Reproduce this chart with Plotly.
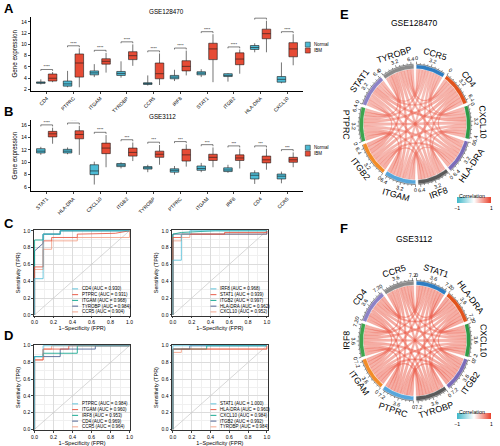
import numpy as np
import plotly.graph_objects as go

W, H = 500, 446
FONT = "Liberation Sans, Arial, Helvetica, sans-serif"

# ---------------- Panel A : GSE128470 box plots ----------------
genes_A = ["CD4", "PTPRC", "ITGAM", "TYROBP", "CCR5", "IRF8", "STAT1", "ITGB2", "HLA-DRA", "CXCL10"]
A_norm_lf = [2.9, 2.4, 4.2, 4.1, 2.7, 3.5, 4.2, 3.4, 8.6, 3.1]
A_norm_q1 = [3.1, 2.6, 4.6, 4.5, 2.9, 3.9, 4.6, 4.3, 9.1, 3.3]
A_norm_med = [3.2, 3.0, 4.95, 4.85, 3.05, 4.2, 4.9, 4.5, 9.45, 3.8]
A_norm_q3 = [3.35, 3.5, 5.3, 5.2, 3.2, 4.5, 5.15, 4.8, 9.8, 4.3]
A_norm_uf = [3.8, 5.3, 6.5, 7.0, 4.5, 5.5, 5.6, 4.9, 10.2, 6.8]
A_ibm_lf = [3.3, 2.4, 5.0, 6.2, 2.8, 4.5, 3.3, 4.8, 8.6, 6.3]
A_ibm_q1 = [3.5, 4.2, 6.5, 7.3, 3.9, 5.3, 7.3, 6.4, 11.0, 7.8]
A_ibm_med = [4.0, 6.7, 7.0, 8.0, 4.8, 6.1, 9.2, 7.4, 11.9, 9.2]
A_ibm_q3 = [4.75, 8.3, 7.45, 8.7, 6.7, 7.1, 10.2, 8.5, 12.7, 10.3]
A_ibm_uf = [5.1, 9.3, 8.5, 10.0, 8.4, 8.9, 11.8, 9.1, 14.2, 11.8]
A_sig = ["****"] * 10

# ---------------- Panel B : GSE3112 box plots ----------------
genes_B = ["STAT1", "HLA-DRA", "CXCL10", "ITGB2", "TYROBP", "PTPRC", "ITGAM", "IRF8", "CD4", "CCR5"]
B_norm_lf = [11.2, 11.3, 6.4, 9.0, 8.4, 8.0, 8.4, 8.3, 6.5, 6.6]
B_norm_q1 = [11.5, 11.5, 8.0, 9.3, 8.9, 8.4, 8.7, 8.5, 7.3, 7.3]
B_norm_med = [11.8, 11.8, 8.6, 9.55, 9.1, 8.7, 9.0, 8.75, 7.9, 7.75]
B_norm_q3 = [12.2, 12.1, 9.6, 9.8, 9.3, 8.95, 9.4, 9.1, 8.3, 8.1]
B_norm_uf = [12.5, 12.4, 10.1, 10.0, 9.6, 9.4, 9.9, 9.6, 8.7, 8.5]
B_ibm_lf = [13.0, 11.2, 9.2, 10.2, 9.6, 9.3, 9.2, 9.0, 8.8, 9.2]
B_ibm_q1 = [14.1, 13.8, 11.4, 11.0, 10.8, 10.2, 10.3, 10.3, 9.9, 10.0]
B_ibm_med = [14.6, 14.5, 12.3, 11.6, 11.3, 11.2, 10.8, 10.7, 10.4, 10.4]
B_ibm_q3 = [15.0, 15.1, 13.1, 12.3, 11.8, 12.1, 11.3, 11.2, 11.0, 10.8]
B_ibm_uf = [15.6, 15.9, 14.4, 13.2, 12.8, 12.9, 12.4, 12.2, 12.2, 11.6]
B_sig = ["****", "****", "****", "***", "***", "***", "***", "***", "***", "***"]

group_names = ["Normal", "IBM"]

# ---------------- Panels C / D : ROC curves ----------------
rocC1_names = ["CD4", "PTPRC", "ITGAM", "TYROBP", "CCR5"]
rocC1_auc = [0.930, 0.931, 0.968, 0.984, 0.904]
rocC1_fpr = [[0, 0, 0.09, 0.09, 0.27, 0.27, 1],
             [0, 0, 0.09, 0.09, 0.18, 0.18, 0.45, 0.45, 0.85, 1],
             [0, 0, 0.09, 0.09, 0.27, 0.27, 1],
             [0, 0, 0.09, 0.09, 0.27, 0.27, 1],
             [0, 0, 0.09, 0.09, 0.18, 0.18, 0.45, 0.45, 1, 1]]
rocC1_tpr = [[0, 0.43, 0.43, 0.96, 0.96, 1, 1],
             [0, 0.57, 0.57, 0.88, 0.88, 0.92, 0.92, 0.96, 0.97, 1],
             [0, 0.89, 0.89, 0.96, 0.96, 1, 1],
             [0, 0.76, 0.85, 0.96, 0.96, 1, 1],
             [0, 0.54, 0.54, 0.78, 0.78, 0.88, 0.88, 0.92, 0.92, 1]]

rocC2_names = ["IRF8", "STAT1", "ITGB2", "HLA-DRA", "CXCL10"]
rocC2_auc = [0.968, 0.939, 0.997, 0.962, 0.952]
rocC2_fpr = [[0, 0, 0.09, 0.09, 0.18, 0.18, 1],
             [0, 0, 0.09, 0.09, 0.55, 0.55, 1, 1],
             [0, 0, 0.09, 0.45, 1],
             [0, 0, 1, 1],
             [0, 0, 0.09, 0.09, 0.18, 0.18, 1, 1]]
rocC2_tpr = [[0, 0.65, 0.65, 0.96, 0.96, 1, 1],
             [0, 0.92, 0.92, 0.96, 0.96, 0.98, 0.98, 1],
             [0, 0.96, 0.98, 1, 1],
             [0, 0.96, 0.96, 1],
             [0, 0.88, 0.88, 0.92, 0.92, 0.96, 0.96, 1]]

rocD1_names = ["PTPRC", "ITGAM", "IRF8", "CD4", "CCR5"]
rocD1_auc = [0.984, 0.960, 0.953, 0.969, 0.964]
rocD1_fpr = [[0, 0, 0.09, 0.09, 1],
             [0, 0, 0.09, 0.09, 0.36, 0.36, 1],
             [0, 0, 0.09, 0.09, 0.45, 0.45, 1],
             [0, 0, 0.27, 0.27, 0.64, 0.64, 1],
             [0, 0, 0.09, 0.09, 0.18, 0.18, 1]]
rocD1_tpr = [[0, 0.87, 0.87, 1, 1],
             [0, 0.83, 0.83, 0.96, 0.96, 1, 1],
             [0, 0.87, 0.87, 0.91, 0.91, 1, 1],
             [0, 0.87, 0.87, 0.96, 0.96, 1, 1],
             [0, 0.83, 0.83, 0.96, 0.96, 1, 1]]

rocD2_names = ["STAT1", "HLA-DRA", "CXCL10", "ITGB2", "TYROBP"]
rocD2_auc = [1.000, 0.960, 0.984, 0.992, 0.984]
rocD2_fpr = [[0, 0, 1],
             [0, 0, 1, 1],
             [0, 0, 0.36, 0.36, 1],
             [0, 0, 0.18, 0.18, 1],
             [0, 0, 0.09, 0.09, 1, 1]]
rocD2_tpr = [[0, 1, 1],
             [0, 0.96, 0.96, 1],
             [0, 0.96, 0.96, 1, 1],
             [0, 0.96, 0.96, 1, 1],
             [0, 0.92, 0.92, 0.96, 0.96, 1]]

# ---------------- Panels E / F : correlation chord diagrams ----------------
genes_E = ["CCR5", "CD4", "CXCL10", "HLA-DRA", "IRF8", "ITGAM", "ITGB2", "PTPRC", "STAT1", "TYROBP"]
corr_E_upper = [
    [0.72, 0.70, 0.68, 0.70, 0.66, 0.72, 0.74, 0.68, 0.70],
    [0.74, 0.80, 0.78, 0.80, 0.82, 0.80, 0.72, 0.80],
    [0.76, 0.74, 0.70, 0.76, 0.74, 0.86, 0.72],
    [0.78, 0.74, 0.80, 0.76, 0.80, 0.78],
    [0.76, 0.80, 0.78, 0.76, 0.76],
    [0.84, 0.80, 0.70, 0.82],
    [0.84, 0.74, 0.86],
    [0.72, 0.80],
    [0.70],
]
genes_F = ["STAT1", "HLA-DRA", "CXCL10", "ITGB2", "TYROBP", "PTPRC", "ITGAM", "IRF8", "CD4", "CCR5"]
corr_F_upper = [
    [0.90, 0.88, 0.84, 0.82, 0.84, 0.80, 0.82, 0.84, 0.80],
    [0.86, 0.86, 0.84, 0.86, 0.82, 0.84, 0.86, 0.82],
    [0.82, 0.80, 0.84, 0.78, 0.80, 0.82, 0.80],
    [0.90, 0.88, 0.88, 0.86, 0.88, 0.84],
    [0.86, 0.88, 0.84, 0.86, 0.82],
    [0.86, 0.86, 0.88, 0.86],
    [0.84, 0.86, 0.82],
    [0.84, 0.82],
    [0.86],
]

# ---------------- styles ----------------
C_NORMAL = "#4DBBD5"
C_IBM = "#E64B35"
ROC_COLORS = ["#4DBBD5", "#E64B35", "#00A087", "#3C5488", "#F39B7F"]
SECTOR_COLORS = ["#2F7DC2", "#E2531C", "#2E9A47", "#7B6CB9", "#5A5A5A",
                 "#57A6DB", "#F28C28", "#3EA54E", "#8C82C6", "#8B8B8B"]
CORR_SCALE = [[0, "#3FB7C9"], [0.5, "#FFFFFF"], [1, "#E8412C"]]


def xd(p0, p1):
    return [p0 / W, p1 / W]


def yd(p0, p1):
    return [1 - p1 / H, 1 - p0 / H]


fig = go.Figure()
annotations = []
shapes = []


def ann(x, y, text, size, **kw):
    d = dict(x=x, y=y, text=text, showarrow=False, xanchor="center", yanchor="middle",
             font=dict(size=size, family=FONT, color=kw.pop("color", "black")))
    d.update(kw)
    annotations.append(d)


# ---------- box panels ----------
def box_panel(genes, nst, ist, sig, xa, ya, leg_top):
    pos = np.arange(len(genes), dtype=float)
    for st, name, col, off in [(nst, group_names[0], C_NORMAL, -0.22), (ist, group_names[1], C_IBM, 0.22)]:
        lf, q1, med, q3, uf = st
        fig.add_trace(go.Box(x=pos + off, lowerfence=lf, q1=q1, median=med, q3=q3, upperfence=uf,
                             name=name, fillcolor=col, line=dict(color="#1a1a1a", width=0.6),
                             width=0.32, whiskerwidth=0, boxpoints=False, showlegend=False,
                             xaxis=xa, yaxis=ya))
    hx, hy, tops = [], [], []
    for i in range(len(genes)):
        h = max(nst[4][i], ist[4][i]) + 0.45
        tops.append(h)
        hx += [i - 0.22, i - 0.22, i + 0.22, i + 0.22, None]
        hy += [h - 0.25, h, h, h - 0.25, None]
    fig.add_trace(go.Scatter(x=hx, y=hy, mode="lines", line=dict(color="black", width=0.5),
                             showlegend=False, hoverinfo="skip", xaxis=xa, yaxis=ya))
    fig.add_trace(go.Scatter(x=pos, y=tops, mode="text", text=sig, textposition="top center",
                             textfont=dict(size=4, family=FONT), showlegend=False,
                             hoverinfo="skip", xaxis=xa, yaxis=ya))
    # compact group key
    for k, (name, col) in enumerate(zip(group_names, [C_NORMAL, C_IBM])):
        yc = leg_top + 6 * k
        shapes.append(dict(type="rect", xref="paper", yref="paper", x0=306 / W, x1=311 / W,
                           y0=1 - (yc + 2.5) / H, y1=1 - (yc - 2.5) / H, fillcolor=col,
                           line=dict(color="#1a1a1a", width=0.5)))
        ann(313 / W, 1 - yc / H, name, 4.5, xref="paper", yref="paper", xanchor="left")


box_panel(genes_A, (A_norm_lf, A_norm_q1, A_norm_med, A_norm_q3, A_norm_uf),
          (A_ibm_lf, A_ibm_q1, A_ibm_med, A_ibm_q3, A_ibm_uf), A_sig, "x", "y", 43)
box_panel(genes_B, (B_norm_lf, B_norm_q1, B_norm_med, B_norm_q3, B_norm_uf),
          (B_ibm_lf, B_ibm_q1, B_ibm_med, B_ibm_q3, B_ibm_uf), B_sig, "x2", "y2", 147)

box_x = dict(range=[-0.6, 9.6], tickmode="array", tickvals=list(range(10)), tickangle=-45,
             showline=True, linecolor="black", linewidth=0.7, ticks="outside", ticklen=2,
             tickwidth=0.6, tickfont=dict(size=5, family=FONT), showgrid=False, zeroline=False)
box_y = dict(showline=True, linecolor="black", linewidth=0.7, ticks="outside", ticklen=2, tickwidth=0.6,
             tickfont=dict(size=5, family=FONT), showgrid=False, zeroline=False, dtick=2,
             title=dict(text="Gene expression", font=dict(size=6.3, family=FONT), standoff=3))

layout_axes = {}
layout_axes["xaxis"] = dict(box_x, domain=xd(28, 304), ticktext=genes_A, anchor="y")
layout_axes["yaxis"] = dict(box_y, domain=yd(15, 89.5), range=[1.79, 14.88], anchor="x")
layout_axes["xaxis2"] = dict(box_x, domain=xd(28, 304), ticktext=genes_B, anchor="y2")
layout_axes["yaxis2"] = dict(box_y, domain=yd(119, 191), range=[5.31, 16.85], anchor="x2")

# ---------- ROC panels ----------
roc_sets = [
    (rocC1_names, rocC1_auc, rocC1_fpr, rocC1_tpr, "3", (31, 129), (230, 316.5)),
    (rocC2_names, rocC2_auc, rocC2_fpr, rocC2_tpr, "4", (171, 268), (230, 316.5)),
    (rocD1_names, rocD1_auc, rocD1_fpr, rocD1_tpr, "5", (31, 129), (346, 432)),
    (rocD2_names, rocD2_auc, rocD2_fpr, rocD2_tpr, "6", (171, 268), (346, 432)),
]
for names, aucs, fprs, tprs, k, (x0, x1), (y0, y1) in roc_sets:
    xa, ya = "x" + k, "y" + k
    fig.add_trace(go.Scatter(x=[0, 1], y=[0, 1], mode="lines", line=dict(color="#BDBDBD", width=0.6),
                             showlegend=False, hoverinfo="skip", xaxis=xa, yaxis=ya))
    for idx in range(len(names) - 1, -1, -1):
        fig.add_trace(go.Scatter(x=fprs[idx], y=tprs[idx], mode="lines",
                                 line=dict(color=ROC_COLORS[idx], width=0.8),
                                 name=f"{names[idx]} (AUC = {aucs[idx]:.3f})",
                                 showlegend=False, xaxis=xa, yaxis=ya))
    ax = dict(range=[-0.01, 1.01], dtick=0.2, tickformat=".1f", showgrid=True, gridcolor="#DCDCDC",
              gridwidth=0.5, minor=dict(dtick=0.1, showgrid=True, gridcolor="#F0F0F0", gridwidth=0.4),
              showline=True, mirror=True, linecolor="#333333", linewidth=0.8, ticks="outside",
              ticklen=1.5, tickwidth=0.6, tickfont=dict(size=5, family=FONT), zeroline=False)
    layout_axes["xaxis" + k] = dict(ax, domain=xd(x0, x1), anchor=ya,
                                    title=dict(text="1\u2212Specificity (FPR)", font=dict(size=5.5, family=FONT), standoff=0))
    layout_axes["yaxis" + k] = dict(ax, domain=yd(y0, y1), anchor=xa,
                                    title=dict(text="Sensitivity (TPR)", font=dict(size=5.5, family=FONT), standoff=2))
    # in-panel key
    for idx in range(len(names)):
        yy = 1 - (y0 + 59.5 + 5.8 * idx) / H
        shapes.append(dict(type="line", xref="paper", yref="paper", x0=(x0 + 39) / W, x1=(x0 + 45) / W,
                           y0=yy, y1=yy, line=dict(color=ROC_COLORS[idx], width=0.9)))
        ann((x0 + 47) / W, yy, f"{names[idx]} (AUC = {aucs[idx]:.3f})", 4.5,
            xref="paper", yref="paper", xanchor="left")


# ---------- chord panels ----------
def corr_color(v, alpha):
    stops = [(-1, (63, 183, 201)), (0, (255, 255, 255)), (1, (232, 65, 44))]
    if v >= 0:
        (a, ca), (b, cb) = stops[1], stops[2]
    else:
        (a, ca), (b, cb) = stops[0], stops[1]
    t = (v - a) / (b - a)
    c = [int(round(ca[m] + t * (cb[m] - ca[m]))) for m in range(3)]
    return f"rgba({c[0]},{c[1]},{c[2]},{alpha})"


def arc(r, t1, t2, n=18):
    ts = np.radians(np.linspace(t1, t2, n))
    return list(r * np.cos(ts)), list(r * np.sin(ts))


def pt(r, t):
    return np.array([r * np.cos(np.radians(t)), r * np.sin(np.radians(t))])


def bez(p0, p2, n=30):
    t = np.linspace(0, 1, n)[:, None]
    pts = (1 - t) ** 2 * p0 + t ** 2 * p2
    return list(pts[:, 0]), list(pts[:, 1])


def tang_angle(theta):
    a = 90 - theta
    while a > 90:
        a -= 180
    while a <= -90:
        a += 180
    return a


def chord(genes, upper, step, xa, ya):
    n = len(genes)
    C = np.zeros((n, n))
    for i, row in enumerate(upper):
        for kk, v in enumerate(row):
            j = i + 1 + kk
            C[i, j] = C[j, i] = v
    tot = C.sum(1)
    gap = 3.0
    u = (360 - n * gap) / tot.sum()
    st = np.zeros(n)
    a = 90 - gap / 2
    for i in range(n):
        st[i] = a
        a -= tot[i] * u + gap
    slot = {}
    for i in range(n):
        others = sorted([j for j in range(n) if j != i], key=lambda j: -((j - i) % n))
        cum = 0.0
        for j in others:
            slot[(i, j)] = (st[i] - cum * u, st[i] - (cum + C[i, j]) * u)
            cum += C[i, j]
    r0 = 0.925
    pairs = sorted([(i, j) for i in range(n) for j in range(i + 1, n)], key=lambda p: C[p])
    for i, j in pairs:
        a1, a2 = slot[(i, j)]
        b1, b2 = slot[(j, i)]
        xs, ys = arc(r0, a1, a2)
        bx, by = bez(pt(r0, a2), pt(r0, b1))
        cx, cy = arc(r0, b1, b2)
        dx, dy = bez(pt(r0, b2), pt(r0, a1))
        fig.add_trace(go.Scatter(x=xs + bx + cx + dx, y=ys + by + cy + dy, mode="lines", fill="toself",
                                 fillcolor=corr_color(C[i, j], 0.5),
                                 line=dict(color=corr_color(C[i, j], 0.6), width=0.35),
                                 showlegend=False, hoverinfo="skip", xaxis=xa, yaxis=ya))
    for i in range(n):
        e = st[i] - tot[i] * u
        ox, oy = arc(1.0, st[i], e, 40)
        ix, iy = arc(0.94, e, st[i], 40)
        fig.add_trace(go.Scatter(x=ox + ix, y=oy + iy, mode="lines", fill="toself",
                                 fillcolor=SECTOR_COLORS[i], line=dict(color=SECTOR_COLORS[i], width=0.3),
                                 showlegend=False, hoverinfo="skip", xaxis=xa, yaxis=ya))
        lx, ly = arc(1.012, st[i], e, 40)
        lx, ly = lx + [None], ly + [None]
        v = 0.0
        minor = step / 4
        while v <= tot[i] + 1e-9:
            th = st[i] - v * u
            major = abs(v / step - round(v / step)) < 1e-6
            r2 = 1.055 if major else 1.035
            p1, p2 = pt(1.012, th), pt(r2, th)
            lx += [p1[0], p2[0], None]
            ly += [p1[1], p2[1], None]
            if major:
                q = pt(1.11, th)
                ann(q[0], q[1], f"{round(v, 1):g}", 5.3, xref=xa, yref=ya, textangle=tang_angle(th))
            v += minor
        fig.add_trace(go.Scatter(x=lx, y=ly, mode="lines", line=dict(color="#222222", width=0.5),
                                 showlegend=False, hoverinfo="skip", xaxis=xa, yaxis=ya))
        mid = (st[i] + e) / 2
        q = pt(1.235, mid)
        ann(q[0], q[1], genes[i], 8.8, xref=xa, yref=ya, textangle=tang_angle(mid))


chord(genes_E, corr_E_upper, 3.2, "x7", "y7")
chord(genes_F, corr_F_upper, 3.6, "x8", "y8")

hid = dict(visible=False, showgrid=False, zeroline=False)
layout_axes["xaxis7"] = dict(hid, domain=xd(330, 500), range=[(330 - 417) / 56, (500 - 417) / 56], anchor="y7")
layout_axes["yaxis7"] = dict(hid, domain=yd(28, 208), range=[(123.5 - 208) / 60, (123.5 - 28) / 60], anchor="x7")
layout_axes["xaxis8"] = dict(hid, domain=xd(330, 500), range=[(330 - 417) / 56, (500 - 417) / 56], anchor="y8")
layout_axes["yaxis8"] = dict(hid, domain=yd(250, 432), range=[(341.7 - 432) / 60, (341.7 - 250) / 60], anchor="x8")

# colour keys (bar + tick labels from colorbar, title as text above it)
for xa, ya, cy in [("x7", "y7", 203), ("x8", "y8", 421)]:
    fig.add_trace(go.Scatter(x=[0, 0], y=[0, 0], mode="markers",
                             marker=dict(size=1, opacity=0, color=[-1, 1], cmin=-1, cmax=1,
                                         colorscale=CORR_SCALE, showscale=True,
                                         colorbar=dict(orientation="h", x=477 / W, xanchor="center",
                                                       y=1 - cy / H, yanchor="middle", len=34 / W,
                                                       thickness=6, outlinewidth=0, ypad=0, xpad=0,
                                                       tickvals=[-1, 1], ticktext=["\u22121", "1"],
                                                       ticks="", tickfont=dict(size=5, family=FONT))),
                             showlegend=False, hoverinfo="skip", xaxis=xa, yaxis=ya))
    ann(475 / W, 1 - (cy - 7) / H, "Correlation", 5.3, xref="paper", yref="paper")

# titles and panel letters
ann(165 / W, 1 - 10 / H, "GSE128470", 6.3, xref="paper", yref="paper")
ann(161 / W, 1 - 115.5 / H, "GSE3112", 6.3, xref="paper", yref="paper")
ann(417 / W, 1 - 21.5 / H, "GSE128470", 8.5, xref="paper", yref="paper")
ann(417 / W, 1 - 239 / H, "GSE3112", 8.5, xref="paper", yref="paper")
for letter, x, y in [("A", 6, 7), ("B", 6, 110), ("C", 6, 224), ("D", 6, 337), ("E", 346, 13), ("F", 345, 229)]:
    ann(x / W, 1 - y / H, f"<b>{letter}</b>", 13, xref="paper", yref="paper")

fig.update_layout(
    width=W, height=H, margin=dict(l=0, r=0, t=0, b=0),
    paper_bgcolor="white", plot_bgcolor="white",
    font=dict(family=FONT, color="black"), showlegend=False,
    annotations=annotations, shapes=shapes,
    **layout_axes,
)
fig.write_html("out.html", config={"displayModeBar": False},
               post_script="document.body.style.margin='0px';")
